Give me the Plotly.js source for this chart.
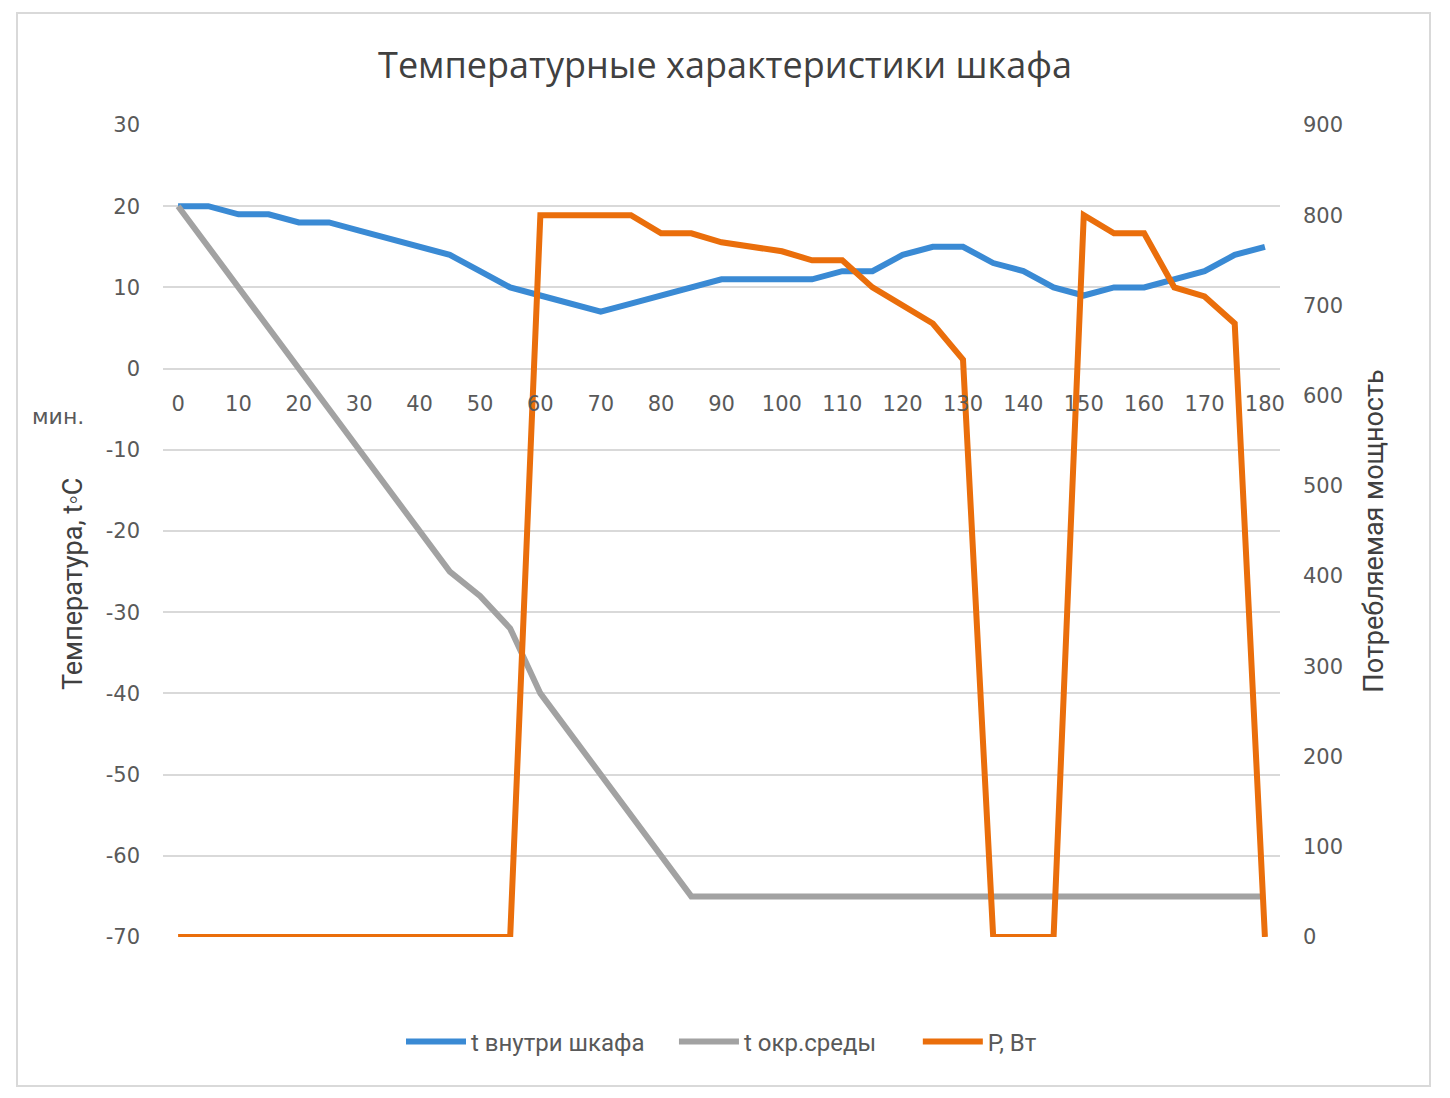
<!DOCTYPE html>
<html>
<head>
<meta charset="utf-8">
<script src="https://cdn.plot.ly/plotly-3.0.1.min.js"></script>
<style>
  body { margin: 0; background: #fff; }
  #chart { width: 1450px; height: 1098px; }
</style>
</head>
<body>
<div id="chart"></div>
<script>
// minutes, every 5
const minutes = [0, 5, 10, 15, 20, 25, 30, 35, 40, 45, 50, 55, 60, 65, 70, 75, 80, 85, 90,
    95, 100, 105, 110, 115, 120, 125, 130, 135, 140, 145, 150, 155, 160, 165, 170, 175, 180];

// t inside cabinet, °C
const tInside = [20, 20, 19, 19, 18, 18, 17, 16, 15, 14, 12, 10, 9, 8, 7, 8, 9, 10, 11,
    11, 11, 11, 12, 12, 14, 15, 15, 13, 12, 10, 9, 10, 10, 11, 12, 14, 15];

// ambient t, °C
const tAmbient = [20, 15, 10, 5, 0, -5, -10, -15, -20, -25, -28, -32, -40, -45, -50, -55, -60, -65, -65,
    -65, -65, -65, -65, -65, -65, -65, -65, -65, -65, -65, -65, -65, -65, -65, -65, -65, -65];

// power, W
const power = [0, 0, 0, 0, 0, 0, 0, 0, 0, 0, 0, 0, 800, 800, 800, 800, 780, 780, 770,
    765, 760, 750, 750, 720, 700, 680, 640, 0, 0, 0, 800, 780, 780, 720, 710, 680, 0];

const xTicks = [0, 10, 20, 30, 40, 50, 60, 70, 80, 90, 100, 110, 120, 130, 140, 150, 160, 170, 180];
const yTicks = [-70, -60, -50, -40, -30, -20, -10, 0, 10, 20, 30];
const yTickText = ['-70', '-60', '-50', '-40', '-30', '-20', '-10', '0', '10', '20', '30'];

const tickFont = { family: 'DejaVu Sans', size: 21, color: '#595959' };
const textFont = 'Roboto, sans-serif';

// plot area in page pixels, for placing the loose texts
const plotL = 163, plotR = 1280, plotT = 125, plotB = 937;
const px = (x) => (x - plotL) / (plotR - plotL);
const py = (y) => (plotB - y) / (plotB - plotT);

const traces = [
    {
        x: minutes, y: tInside, type: 'scatter', mode: 'lines', name: 't внутри шкафа\u2003',
        line: { color: '#3A8AD4', width: 6 }
    },
    {
        x: minutes, y: tAmbient, type: 'scatter', mode: 'lines', name: 't окр.среды\u2003\u2002',
        line: { color: '#A2A2A2', width: 6 }
    },
    {
        x: minutes, y: power, type: 'scatter', mode: 'lines', name: 'P, Вт', yaxis: 'y2',
        line: { color: '#EA6E0B', width: 6 }
    }
];

const layout = {
    width: 1450,
    height: 1098,
    margin: { l: plotL, r: 1450 - plotR, t: plotT, b: 1098 - plotB },
    paper_bgcolor: '#fff',
    plot_bgcolor: '#fff',
    showlegend: true,
    title: {
        text: 'Температурные характеристики шкафа',
        font: { family: 'Open Sans', size: 36, color: '#404040' },
        x: 0.5, xanchor: 'center', y: 1 - 65 / 1098, yanchor: 'middle'
    },
    xaxis: {
        range: [-2.5, 182.5],
        anchor: 'free',
        position: 0.7,
        tickmode: 'array',
        tickvals: xTicks,
        ticks: '',
        ticklabelstandoff: 20,
        showgrid: false,
        zeroline: false,
        showline: false,
        tickfont: tickFont
    },
    yaxis: {
        range: [-70, 30],
        tickmode: 'array',
        tickvals: yTicks,
        ticktext: yTickText,
        ticks: '',
        ticklabelstandoff: 22,
        showgrid: true,
        gridcolor: '#D9D9D9',
        gridwidth: 2,
        zeroline: false,
        showline: false,
        tickfont: tickFont
    },
    yaxis2: {
        range: [0, 900],
        dtick: 100,
        overlaying: 'y',
        side: 'right',
        ticks: '',
        ticklabelstandoff: 22,
        showgrid: false,
        zeroline: false,
        showline: false,
        tickfont: tickFont,
        title: {
            text: 'Потребляемая мощность',
            font: { family: textFont, size: 27, color: '#404040' },
            standoff: 22
        }
    },
    legend: {
        orientation: 'h',
        x: 0.5, xanchor: 'center',
        y: py(1042), yanchor: 'middle',
        itemwidth: 60,
        font: { family: textFont, size: 24, color: '#595959' },
        traceorder: 'normal'
    },
    annotations: [
        {
            text: 'мин.', xref: 'paper', yref: 'paper',
            x: px(58), y: py(416),
            xanchor: 'center', yanchor: 'middle', showarrow: false,
            font: { family: 'DejaVu Sans', size: 22, color: '#595959' }
        },
        {
            text: 'Температура, t◦C', xref: 'paper', yref: 'paper',
            x: px(73), y: py(584), textangle: -90,
            xanchor: 'center', yanchor: 'middle', showarrow: false,
            font: { family: textFont, size: 27, color: '#404040' }
        }
    ],
    shapes: [
        {
            type: 'rect', xref: 'paper', yref: 'paper',
            x0: px(17), x1: px(1430),
            y0: py(1086), y1: py(13),
            line: { color: '#D9D9D9', width: 2 }, fillcolor: 'rgba(0,0,0,0)', layer: 'below'
        }
    ]
};

Plotly.newPlot('chart', traces, layout, { staticPlot: true });
</script>
</body>
</html>
